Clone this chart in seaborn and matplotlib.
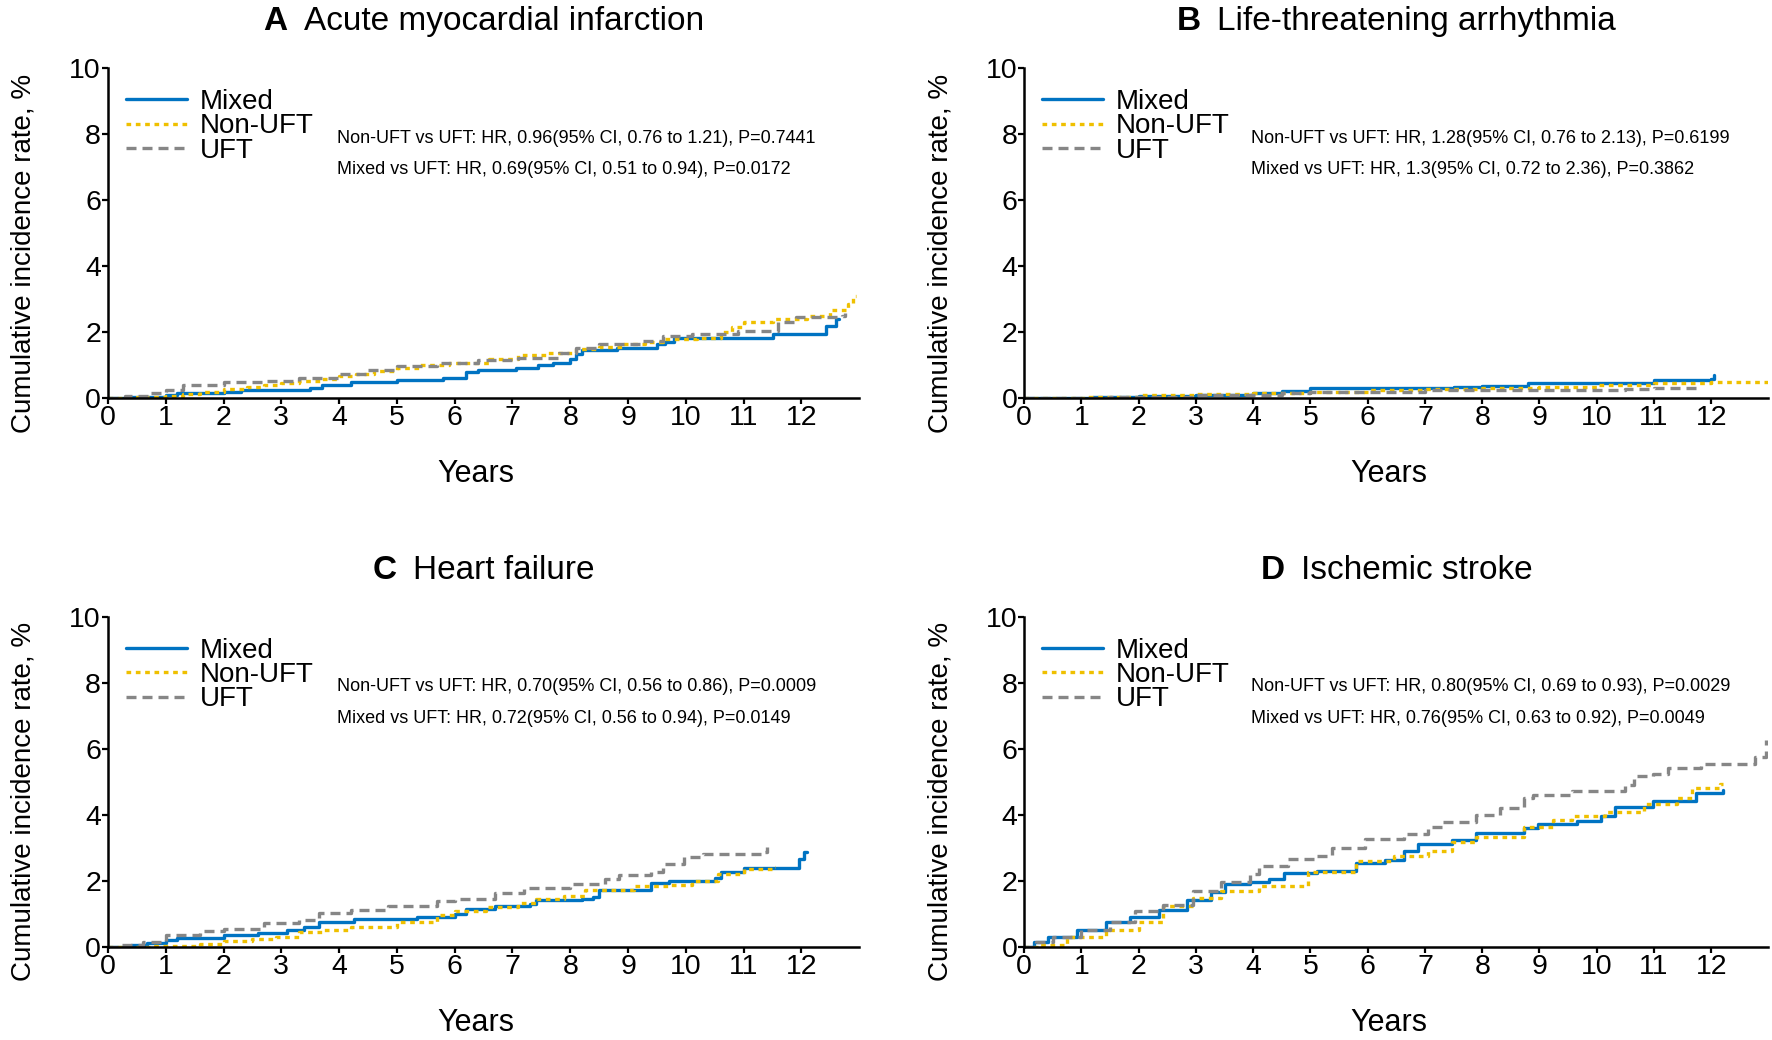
import numpy as np
import pandas as pd
import matplotlib
matplotlib.use("Agg")
import matplotlib.pyplot as plt
from matplotlib import font_manager
import seaborn as sns

# === Data: (years, cumulative incidence %) step points ===
groups = ["Mixed", "Non-UFT", "UFT"]

ami_mixed = [(0, 0), (0.4, 0.05), (1.0, 0.1), (1.2, 0.15), (2.0, 0.2), (2.3, 0.26), (3.5, 0.3),
             (3.7, 0.4), (4.2, 0.5), (5.0, 0.55), (5.8, 0.62), (6.2, 0.8), (6.4, 0.85), (7.06, 0.92),
             (7.45, 1.0), (7.7, 1.08), (8.0, 1.18), (8.1, 1.35), (8.2, 1.45), (8.8, 1.54), (9.5, 1.64),
             (9.64, 1.72), (9.8, 1.83), (11.5, 1.95), (12.43, 2.2), (12.6, 2.41), (12.65, 2.41)]
ami_nonuft = [(0, 0), (0.5, 0.03), (1.0, 0.07), (1.3, 0.12), (1.6, 0.2), (2.0, 0.29), (2.4, 0.35),
              (2.7, 0.41), (3.0, 0.47), (3.3, 0.54), (3.7, 0.6), (4.0, 0.67), (4.3, 0.74), (4.6, 0.82),
              (5.0, 0.92), (5.4, 1.0), (5.9, 1.08), (6.6, 1.18), (7.1, 1.31), (7.6, 1.36), (8.1, 1.49),
              (8.5, 1.57), (8.9, 1.66), (9.3, 1.72), (9.6, 1.79), (10.2, 1.83), (10.6, 2.0), (10.8, 2.15),
              (11.0, 2.3), (11.5, 2.4), (12.1, 2.5), (12.5, 2.67), (12.8, 2.87), (12.9, 3.1), (12.95, 3.1)]
ami_uft = [(0, 0), (0.3, 0.07), (0.75, 0.15), (1.0, 0.26), (1.3, 0.4), (2.0, 0.48), (2.7, 0.54),
           (3.3, 0.62), (4.0, 0.74), (4.5, 0.87), (5.0, 0.97), (5.7, 1.06), (6.4, 1.15), (7.1, 1.23),
           (7.8, 1.38), (8.1, 1.54), (8.5, 1.64), (9.2, 1.74), (9.6, 1.9), (10.1, 1.95), (10.9, 2.05),
           (11.6, 2.31), (11.9, 2.46), (12.7, 2.5), (12.75, 2.6)]

lta_mixed = [(0, 0), (1.2, 0.03), (2.0, 0.06), (3.0, 0.1), (4.0, 0.15), (4.5, 0.22), (5.0, 0.3),
             (7.5, 0.33), (8.0, 0.36), (8.8, 0.45), (11.0, 0.55), (12.0, 0.6), (12.05, 0.7)]
lta_nonuft = [(0, 0), (1.1, 0.05), (2.0, 0.1), (3.0, 0.13), (4.0, 0.15), (5.0, 0.2), (6.0, 0.25),
              (7.0, 0.28), (8.0, 0.3), (9.0, 0.35), (10.0, 0.4), (11.0, 0.45), (12.0, 0.5), (13.0, 0.5)]
lta_uft = [(0, 0), (1.5, 0.03), (2.0, 0.05), (3.0, 0.1), (4.5, 0.15), (5.0, 0.2), (7.0, 0.25),
           (10.5, 0.27), (11.0, 0.3), (11.8, 0.35)]

hf_mixed = [(0, 0), (0.4, 0.05), (0.67, 0.12), (1.0, 0.2), (1.2, 0.26), (2.0, 0.36), (2.6, 0.44),
            (3.1, 0.51), (3.4, 0.6), (3.65, 0.77), (4.25, 0.85), (5.35, 0.92), (6.0, 1.0), (6.2, 1.16),
            (6.7, 1.23), (7.3, 1.31), (7.4, 1.44), (8.2, 1.46), (8.4, 1.52), (8.5, 1.74), (9.4, 1.93),
            (9.7, 2.0), (10.5, 2.1), (10.6, 2.26), (11.0, 2.38), (11.96, 2.67), (12.05, 2.87), (12.1, 2.87)]
hf_nonuft = [(0, 0), (0.75, 0.02), (1.6, 0.1), (2.0, 0.18), (2.5, 0.24), (2.9, 0.31), (3.3, 0.46),
             (3.7, 0.53), (4.2, 0.6), (5.0, 0.77), (5.7, 0.97), (6.0, 1.1), (6.55, 1.2), (7.1, 1.33),
             (7.4, 1.46), (7.9, 1.56), (8.25, 1.72), (9.1, 1.85), (9.7, 1.87), (10.1, 2.0), (10.55, 2.2),
             (11.0, 2.36), (11.5, 2.41), (11.55, 2.41)]
hf_uft = [(0, 0), (0.25, 0.07), (0.6, 0.15), (1.0, 0.36), (1.6, 0.49), (2.0, 0.56), (2.7, 0.72),
          (3.3, 0.82), (3.65, 1.03), (4.2, 1.13), (4.85, 1.23), (5.7, 1.38), (6.0, 1.46), (6.7, 1.64),
          (7.2, 1.8), (8.0, 1.92), (8.6, 2.05), (8.85, 2.17), (9.4, 2.26), (9.6, 2.51), (9.96, 2.72),
          (10.3, 2.82), (11.3, 2.87), (11.4, 3.03)]

is_mixed = [(0, 0), (0.17, 0.15), (0.42, 0.31), (0.92, 0.51), (1.43, 0.77), (1.85, 0.92), (2.35, 1.13),
            (2.85, 1.44), (3.27, 1.66), (3.5, 1.9), (3.94, 1.97), (4.28, 2.07), (4.53, 2.24), (5.12, 2.31),
            (5.79, 2.54), (6.3, 2.65), (6.63, 2.92), (6.88, 3.13), (7.47, 3.23), (7.89, 3.47), (8.73, 3.61),
            (8.98, 3.74), (9.65, 3.82), (10.07, 3.98), (10.32, 4.23), (10.99, 4.43), (11.74, 4.67), (12.2, 4.77)]
is_nonuft = [(0, 0), (0.25, 0.05), (0.75, 0.29), (1.43, 0.51), (2.0, 0.77), (2.43, 1.23), (2.94, 1.49),
             (3.44, 1.69), (4.1, 1.85), (4.95, 2.26), (5.79, 2.62), (6.46, 2.77), (7.05, 2.92), (7.47, 3.18),
             (7.89, 3.33), (8.73, 3.64), (9.23, 3.85), (9.56, 3.98), (10.15, 4.1), (10.82, 4.33),
             (11.41, 4.51), (11.66, 4.82), (12.15, 4.94), (12.2, 4.94)]
is_uft = [(0, 0), (0.2, 0.15), (0.5, 0.3), (1.0, 0.52), (1.5, 0.77), (1.93, 1.08), (2.43, 1.28),
          (2.94, 1.69), (3.44, 1.97), (3.94, 2.2), (4.1, 2.46), (4.6, 2.67), (5.12, 2.77), (5.37, 2.99),
          (5.96, 3.28), (6.63, 3.44), (7.05, 3.64), (7.3, 3.79), (7.89, 4.0), (8.31, 4.21), (8.73, 4.51),
          (8.89, 4.62), (9.56, 4.72), (10.49, 4.9), (10.66, 5.18), (10.99, 5.23), (11.24, 5.44),
          (11.83, 5.54), (12.76, 5.76), (12.95, 6.26)]

panel_letters = ["A", "B", "C", "D"]
panel_titles = ["Acute myocardial infarction", "Life-threatening arrhythmia",
                "Heart failure", "Ischemic stroke"]
panel_curves = [(ami_mixed, ami_nonuft, ami_uft), (lta_mixed, lta_nonuft, lta_uft),
                (hf_mixed, hf_nonuft, hf_uft), (is_mixed, is_nonuft, is_uft)]
hr_nonuft = ["Non-UFT vs UFT: HR, 0.96(95% CI, 0.76 to 1.21), P=0.7441",
             "Non-UFT vs UFT: HR, 1.28(95% CI, 0.76 to 2.13), P=0.6199",
             "Non-UFT vs UFT: HR, 0.70(95% CI, 0.56 to 0.86), P=0.0009",
             "Non-UFT vs UFT: HR, 0.80(95% CI, 0.69 to 0.93), P=0.0029"]
hr_mixed = ["Mixed vs UFT: HR, 0.69(95% CI, 0.51 to 0.94), P=0.0172",
            "Mixed vs UFT: HR, 1.3(95% CI, 0.72 to 2.36), P=0.3862",
            "Mixed vs UFT: HR, 0.72(95% CI, 0.56 to 0.94), P=0.0149",
            "Mixed vs UFT: HR, 0.76(95% CI, 0.63 to 0.92), P=0.0049"]
x_ticks = list(range(0, 13))
y_ticks = [0, 2, 4, 6, 8, 10]

# === Style ===
sns.set_style("white")
installed = {f.name for f in font_manager.fontManager.ttflist}
if "Liberation Sans Narrow" in installed:
    # the reference text looks condensed: narrow face, a bit larger
    plt.rcParams["font.family"] = ["Liberation Sans Narrow", "Liberation Sans", "DejaVu Sans"]
    fs = 1.2
else:
    plt.rcParams["font.family"] = ["Liberation Sans", "DejaVu Sans"]
    fs = 1.0
plt.rcParams["text.color"] = "black"
plt.rcParams["axes.labelcolor"] = "black"
palette = {"Mixed": "#0073C2", "Non-UFT": "#EFC000", "UFT": "#868686"}
dashes = {"Mixed": "", "Non-UFT": (1.4, 1.4), "UFT": (3.0, 1.8)}

fig = plt.figure(figsize=(17.72, 10.4), dpi=100)
positions = [[0.0609, 0.617, 0.424, 0.3173], [0.578, 0.617, 0.420, 0.3173],
             [0.0609, 0.0894, 0.424, 0.3173], [0.578, 0.0894, 0.420, 0.3173]]

leg_size = 20 * fs
em = leg_size * 100 / 72
leg_spacing = 24.4 / em - 0.94
leg_top = 1 - (33.8 - 0.47 * em) / 330

title_parts = []
for i in range(4):
    ax = fig.add_axes(positions[i])
    rows = []
    for g, pts in zip(groups, panel_curves[i]):
        for t, v in pts:
            rows.append({"Years": t, "rate": v, "group": g})
    df = pd.DataFrame(rows)

    sns.lineplot(data=df, x="Years", y="rate", hue="group", style="group",
                 hue_order=groups, style_order=groups, palette=palette, dashes=dashes,
                 estimator=None, drawstyle="steps-post", linewidth=2.4, legend=False, ax=ax)

    ax.set_xlim(0, 13)
    ax.set_ylim(0, 10)
    ax.set_xticks(x_ticks)
    ax.set_yticks(y_ticks)
    ax.tick_params(axis="both", labelsize=20.5 * fs, length=4, width=1.6, pad=1, colors="black",
                   bottom=True, left=True, direction="out")
    sns.despine(ax=ax)
    for s in ["left", "bottom"]:
        ax.spines[s].set_linewidth(1.8)
        ax.spines[s].set_color("black")

    ax.set_xlabel("Years", fontsize=22 * fs, va="center")
    ax.xaxis.set_label_coords(0.49, -0.23)
    ax.set_ylabel("Cumulative incidence rate, %", fontsize=20 * fs, va="center")
    ax.yaxis.set_label_coords(-0.112, 0.44)

    ax.legend(ax.lines[:3], groups, loc="upper left", bbox_to_anchor=(0.024, leg_top),
              frameon=False, fontsize=leg_size, handlelength=2.2 / fs, handletextpad=0.45 / fs,
              labelspacing=leg_spacing, borderpad=0, borderaxespad=0)

    ax.text(3.97, 7.88, hr_nonuft[i], fontsize=13 * fs, va="center", ha="left")
    ax.text(3.97, 6.92, hr_mixed[i], fontsize=13 * fs, va="center", ha="left")

    t1 = ax.text(0.5, 1.142, panel_letters[i], transform=ax.transAxes, fontsize=24 * fs,
                 fontweight="bold", ha="left", va="center")
    t2 = ax.text(0.5, 1.142, panel_titles[i], transform=ax.transAxes, fontsize=24 * fs,
                 ha="left", va="center")
    title_parts.append((ax, t1, t2))

# === Center the two-part titles over each panel ===
fig.canvas.draw()
renderer = fig.canvas.get_renderer()
for ax, t1, t2 in title_parts:
    ab = ax.get_window_extent(renderer)
    w1 = t1.get_window_extent(renderer).width
    w2 = t2.get_window_extent(renderer).width
    gap = 16
    start = ab.x0 + ab.width / 2 - (w1 + gap + w2) / 2
    t1.set_position(((start - ab.x0) / ab.width, 1.142))
    t2.set_position(((start + w1 + gap - ab.x0) / ab.width, 1.142))

fig.savefig("out.png", dpi=100)
